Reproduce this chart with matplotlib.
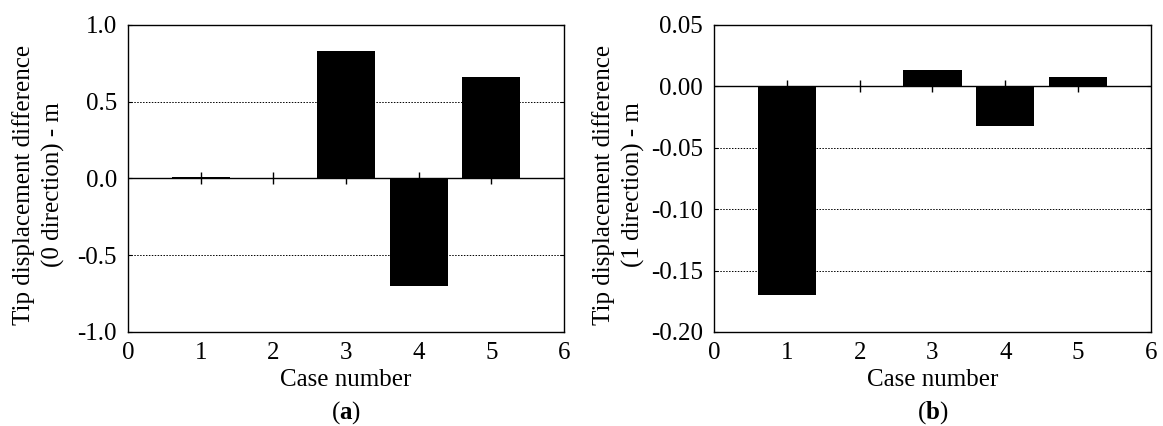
import numpy as np
import matplotlib.pyplot as plt

plt.rcParams['font.family'] = ['Liberation Serif', 'DejaVu Serif']
plt.rcParams['mathtext.fontset'] = 'custom'
plt.rcParams['mathtext.rm'] = 'Liberation Serif'
plt.rcParams['mathtext.bf'] = 'Liberation Serif:bold'

# data
cases = [1, 2, 3, 4, 5]
diff_dir0 = [0.01, 0.0, 0.83, -0.70, 0.66]
diff_dir1 = [-0.17, 0.0, 0.013, -0.032, 0.008]

panels = [
    dict(vals=diff_dir0, ylim=(-1.0, 1.0), yticks=[-1.0, -0.5, 0.0, 0.5, 1.0],
         fmt='{:.1f}', ylabel='Tip displacement difference\n(0 direction) - m',
         tag='a', rect=[0.1101, 0.2207, 0.3749, 0.7207], labx=-0.145),
    dict(vals=diff_dir1, ylim=(-0.20, 0.05),
         yticks=[-0.20, -0.15, -0.10, -0.05, 0.00, 0.05],
         fmt='{:.2f}', ylabel='Tip displacement difference\n(1 direction) - m',
         tag='b', rect=[0.6139, 0.2207, 0.3758, 0.7207], labx=-0.158),
]

fig = plt.figure(figsize=(11.63, 4.26), dpi=100)

for p in panels:
    ax = fig.add_axes(p['rect'])
    ax.bar(cases, p['vals'], width=0.8, color='black', zorder=3)
    ax.set_xlim(0, 6)
    ax.set_ylim(*p['ylim'])
    ax.set_xticks(range(0, 7))
    ax.tick_params(axis='x', length=0, labelsize=18, pad=7)
    ax.set_yticks(p['yticks'])
    ax.set_yticklabels([p['fmt'].format(v) for v in p['yticks']])
    ax.tick_params(axis='y', direction='in', length=3, labelsize=18, pad=8,
                   right=True)
    # dotted grid at the inner y ticks, solid zero line
    for v in p['yticks'][1:-1]:
        if v == 0:
            ax.axhline(0, color='black', lw=1.0, zorder=4)
        else:
            ax.axhline(v, color='black', lw=0.7, ls=(0, (1.5, 1.5)), zorder=1)
    for s in ax.spines.values():
        s.set_linewidth(1.0)
    # tick marks for the cases sit on the zero line
    sec = ax.secondary_xaxis(0, transform=ax.transData)
    sec.set_xticks(cases)
    sec.tick_params(direction='inout', length=8, width=1.0, labelbottom=False)
    sec.spines['bottom'].set_visible(False)
    ax.set_xlabel('Case number', fontsize=18, labelpad=4)
    ax.set_ylabel(p['ylabel'], fontsize=18, linespacing=1.37)
    ax.yaxis.set_label_coords(p['labx'], 0.48)
    ax.text(0.5, -0.264, r'($\mathbf{' + p['tag'] + r'}$)', transform=ax.transAxes,
            ha='center', va='center', fontsize=18)

fig.savefig('out.png', dpi=100)
